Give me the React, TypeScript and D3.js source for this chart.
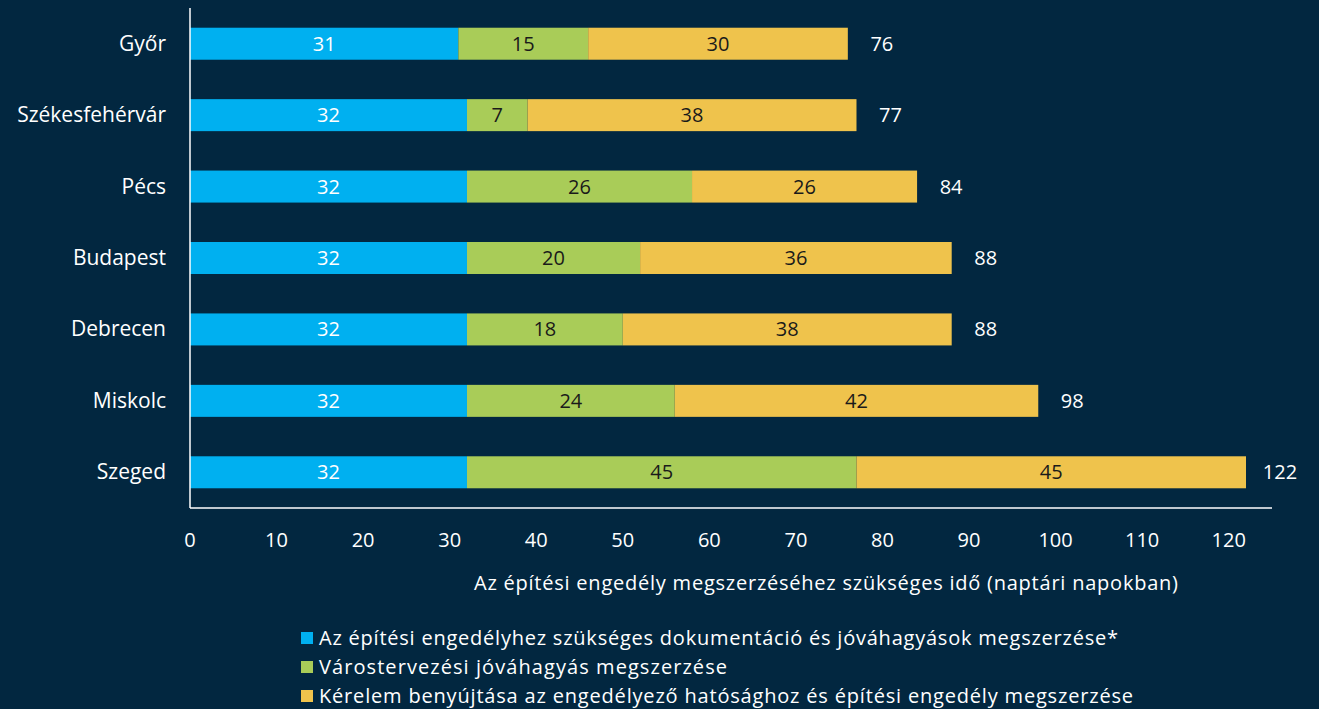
import React from "react";
import * as d3 from "d3";

const cities = ["Győr", "Székesfehérvár", "Pécs", "Budapest", "Debrecen", "Miskolc", "Szeged"];
const docs = [31, 32, 32, 32, 32, 32, 32];
const urban = [15, 7, 26, 20, 18, 24, 45];
const permit = [30, 38, 26, 36, 38, 42, 45];
const totals = [76, 77, 84, 88, 88, 98, 122];
const ticks = [0, 10, 20, 30, 40, 50, 60, 70, 80, 90, 100, 110, 120];
const seriesNames = [
  "Az építési engedélyhez szükséges dokumentáció és jóváhagyások megszerzése*",
  "Várostervezési jóváhagyás megszerzése",
  "Kérelem benyújtása az engedélyező hatósághoz és építési engedély megszerzése",
];
const colors = ["#00b0f0", "#a9cc58", "#efc34c"];
const labelColors = ["#ffffff", "#1a1a1a", "#1a1a1a"];
const axisTitle = "Az építési engedély megszerzéséhez szükséges idő (naptári napokban)";

const W = 1319;
const H = 709;
const BG = "#022740";
const FONT = "'Open Sans', sans-serif";

export default function App() {
  const x = d3.scaleLinear().domain([0, 122]).range([190, 1246]);
  const y = d3.scaleBand<string>().domain(cities).range([8, 508]).paddingInner(0.552).paddingOuter(0.276);
  const bw = y.bandwidth();
  const series = [docs, urban, permit];

  const segs: { key: string; x0: number; x1: number; y: number; color: string; v: number; lc: string }[] = [];
  cities.forEach((c, i) => {
    let acc = 0;
    series.forEach((s, k) => {
      const v = s[i];
      segs.push({ key: c + k, x0: x(acc), x1: x(acc + v), y: y(c)!, color: colors[k], v, lc: labelColors[k] });
      acc += v;
    });
  });

  const legendY = [638, 667, 696];
  const legendLen = [799, 408, 814];

  return (
    <div style={{ position: "fixed", left: 0, top: 0, width: W, height: H, background: BG }}>
      <svg width={W} height={H} style={{ display: "block", fontFamily: FONT }}>
        <rect width={W} height={H} fill={BG} />
        {segs.map((s) => (
          <g key={s.key}>
            <rect x={s.x0} y={s.y} width={s.x1 - s.x0} height={bw} fill={s.color} />
            <text x={(s.x0 + s.x1) / 2} y={s.y + bw / 2 + 7} textAnchor="middle" fontSize={20} fill={s.lc}>
              {s.v}
            </text>
          </g>
        ))}
        {cities.map((c, i) => (
          <g key={c}>
            <text x={166} y={y(c)! + bw / 2 + 7} textAnchor="end" fontSize={21} fill="#ffffff">
              {c}
            </text>
            <text x={x(totals[i]) + 34} y={y(c)! + bw / 2 + 7} textAnchor="middle" fontSize={20} fill="#ffffff">
              {totals[i]}
            </text>
          </g>
        ))}
        <line x1={190} x2={190} y1={8} y2={508} stroke="#ffffff" strokeWidth={1.5} />
        <line x1={190} x2={1272} y1={508} y2={508} stroke="#ffffff" strokeWidth={1.5} />
        {ticks.map((t) => (
          <text key={t} x={x(t)} y={547} textAnchor="middle" fontSize={20} fill="#ffffff">
            {t}
          </text>
        ))}
        <text x={474} y={590} fontSize={20} fill="#ffffff" textLength={704} lengthAdjust="spacing">
          {axisTitle}
        </text>
        {seriesNames.map((n, k) => (
          <g key={n}>
            <rect x={301} y={legendY[k] - 6} width={12} height={12} fill={colors[k]} />
            <text x={319} y={legendY[k] + 7} fontSize={20} fill="#ffffff" textLength={legendLen[k]} lengthAdjust="spacing">
              {n}
            </text>
          </g>
        ))}
      </svg>
    </div>
  );
}
